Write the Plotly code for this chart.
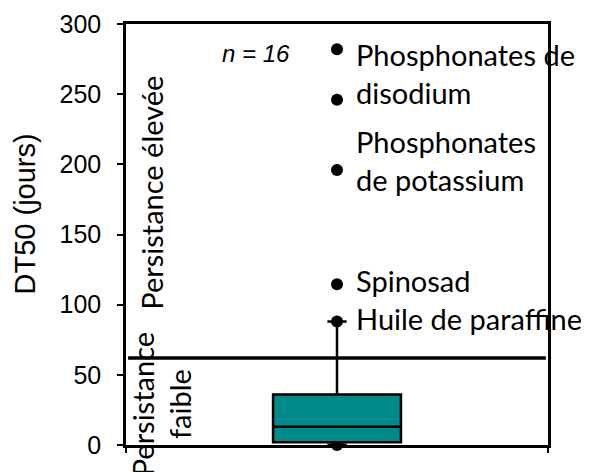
import plotly.graph_objects as go

# ---- data ----
box_q1 = [2]
box_median = [13]
box_q3 = [36]
box_lowerfence = [0]
box_upperfence = [88]
n_label = "n = 16"

outlier_values = [282, 246, 196, 114.5, 88, 0]

label_texts = ["Phosphonates de<br>disodium", "Phosphonates<br>de potassium", "Spinosad", "Huile de paraffine"]
label_values = [265, 203, 117, 90]

threshold = 62
y_ticks = [0, 50, 100, 150, 200, 250, 300]

BOX_X = 0.5
ARIAL = "Liberation Sans, Arial, sans-serif"
CALIBRI = "Lato, Carlito, Calibri, sans-serif"

fig = go.Figure()

fig.add_trace(go.Scatter(
    x=[BOX_X] * len(outlier_values), y=outlier_values, mode="markers",
    marker=dict(color="black", size=12), cliponaxis=False, showlegend=False,
))

fig.add_trace(go.Box(
    x=[BOX_X], q1=box_q1, median=box_median, q3=box_q3,
    lowerfence=box_lowerfence, upperfence=box_upperfence,
    width=0.303, whiskerwidth=0.15, boxpoints=False, yaxis="y2",
    fillcolor="#008B8B", line=dict(color="black", width=2.5), showlegend=False,
))

fig.add_shape(type="line", xref="x", yref="y", x0=0.005, x1=0.995, y0=threshold, y1=threshold,
              line=dict(color="black", width=3.3))

annotations = [
    dict(x=0.307, y=279, text="<i>" + n_label + "</i>", showarrow=False,
         font=dict(family=ARIAL, size=24, color="black"), xanchor="center", yanchor="middle"),
    dict(x=0.060, y=180, text="Persistance élevée", textangle=-90, showarrow=False,
         font=dict(family=CALIBRI, size=29, color="black"), xanchor="center", yanchor="middle"),
    dict(x=0.083, y=29, text="Persistance<br>faible", textangle=-90, showarrow=False,
         font=dict(family=CALIBRI, size=29, color="black"), xanchor="center", yanchor="middle"),
    dict(xref="paper", yref="paper", x=0, xshift=-101, y=0.5475, text="DT50 (jours)", textangle=-90,
         showarrow=False, font=dict(family=ARIAL, size=29, color="black"), xanchor="center", yanchor="middle"),
]
for t, v in zip(label_texts, label_values):
    annotations.append(dict(x=0.540, y=v, text=t, showarrow=False, align="left",
                            font=dict(family=CALIBRI, size=29, color="black"),
                            xanchor="left", yanchor="middle"))

fig.update_layout(
    width=581, height=464,
    margin=dict(l=118, r=41, t=16, b=27),
    paper_bgcolor="white", plot_bgcolor="white",
    annotations=annotations,
    xaxis=dict(range=[0, 1], showgrid=False, zeroline=False, showline=True, linecolor="black",
               linewidth=2.5, mirror=True, ticks="outside", ticklen=5, tickwidth=2,
               tickcolor="black", tickvals=[0, 1], ticktext=["", ""], automargin=False),
    yaxis=dict(range=[0, 300], showgrid=False, zeroline=False, showline=True, linecolor="black",
               linewidth=2.5, mirror=True, ticks="outside", ticklen=6, tickwidth=2,
               tickcolor="black", tickvals=y_ticks, automargin=False, ticklabelstandoff=11,
               tickfont=dict(family=ARIAL, size=25, color="black")),
    yaxis2=dict(range=[0, 300], overlaying="y", visible=False),
)

fig.write_html("out.html")
